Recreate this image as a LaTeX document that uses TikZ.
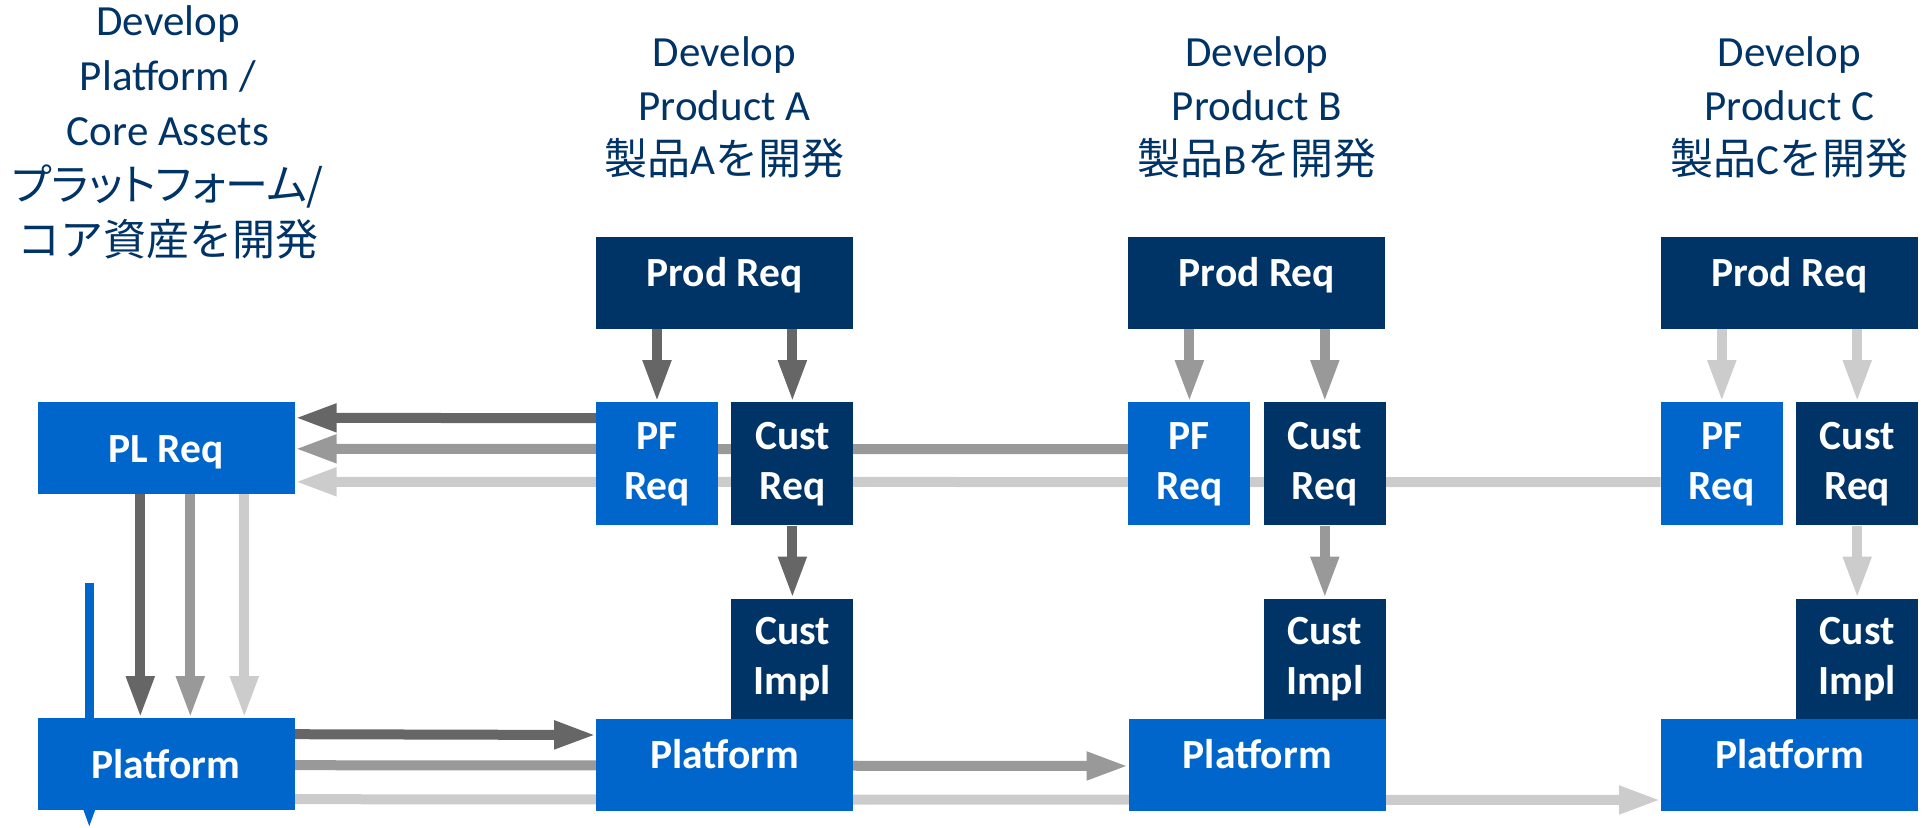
\documentclass[tikz,border=0pt]{standalone}
\usepackage{fontspec}
\setmainfont{Carlito}
\newfontfamily\jpfont{Noto Sans CJK JP}
\newfontfamily\jpkana[RawFeature=+palt]{Noto Sans CJK JP}
\usetikzlibrary{positioning,arrows.meta,backgrounds}
\definecolor{navy}{RGB}{0,51,102}
\definecolor{pfblue}{RGB}{0,102,204}
\definecolor{darkarr}{RGB}{102,102,102}
\definecolor{midarr}{RGB}{153,153,153}
\definecolor{lightarr}{RGB}{204,204,204}
\tikzset{
  box/.style={rectangle, inner sep=0pt, text=white, align=center,
    font=\fontsize{41.5}{50}\selectfont\bfseries},
  navybox/.style={box, fill=navy},
  bluebox/.style={box, fill=pfblue},
  oneline/.style={text height=37pt, text depth=9pt},
  upper/.style={text height=37pt, text depth=31pt},
  widebox/.style={minimum width=257pt, minimum height=92pt},
  tallbox/.style={minimum width=122pt, minimum height=123pt},
  implbox/.style={minimum width=122pt, minimum height=120pt},
  flow/.style={line width=10pt, -{Triangle[width=26pt,length=42pt]}},
  title/.style={text=navy, align=center, font=\fontsize{43}{54}\selectfont},
}
\begin{document}
\begin{tikzpicture}[x=1pt,y=-1pt]
\useasboundingbox (0,0) rectangle (1924,827);
\node[bluebox, widebox, oneline] (plreq) at (166,448) {PL Req};
\node[bluebox, widebox, oneline] (platl) [below=224pt of plreq] {Platform};

\node[navybox, widebox, upper] (proda) at (724.5,283) {Prod Req};
\node[bluebox, tallbox] (pfa) [below=73pt of proda.south west, anchor=north west] {PF\\Req};
\node[navybox, tallbox] (custa) [right=13pt of pfa] {Cust\\Req};
\node[navybox, implbox] (impla) [below=73pt of custa] {Cust\\Impl};
\node[bluebox, widebox, upper] (plata) [below=0pt of impla.south east, anchor=north east] {Platform};

\node[navybox, widebox, upper] (prodb) [right=275pt of proda] {Prod Req};
\node[bluebox, tallbox] (pfb) [below=73pt of prodb.south west, anchor=north west] {PF\\Req};
\node[navybox, tallbox] (custb) [right=13pt of pfb] {Cust\\Req};
\node[navybox, implbox] (implb) [below=73pt of custb] {Cust\\Impl};
\node[bluebox, widebox, upper] (platb) [below=0pt of implb.south east, anchor=north east] {Platform};

\node[navybox, widebox, upper] (prodc) [right=275pt of prodb] {Prod Req};
\node[bluebox, tallbox] (pfc) [below=73pt of prodc.south west, anchor=north west] {PF\\Req};
\node[navybox, tallbox] (custc) [right=13pt of pfc] {Cust\\Req};
\node[navybox, implbox] (implc) [below=73pt of custc] {Cust\\Impl};
\node[bluebox, widebox, upper] (platc) [below=0pt of implc.south east, anchor=north east] {Platform};

\node[title, font=\fontsize{43}{55}\selectfont] (devpl) at (168,132) {Develop\\Platform /\\Core Assets\\{\jpkana プラットフォーム/}\\{\jpfont コア資産を開発}};
\node[title] (deva) at ([yshift=129pt]proda.north) {Develop\\Product A\\{\jpfont 製品}A{\jpfont を開発}};
\node[title] (devb) at ([yshift=129pt]prodb.north) {Develop\\Product B\\{\jpfont 製品}B{\jpfont を開発}};
\node[title] (devc) at ([yshift=129pt]prodc.north) {Develop\\Product C\\{\jpfont 製品}C{\jpfont を開発}};

\draw[flow, darkarr] (pfa.north |- proda.south) -- (pfa.north);
\draw[flow, darkarr] (custa.north |- proda.south) -- (custa.north);
\draw[flow, darkarr] (custa.south) -- (impla.north);
\draw[flow, midarr] (pfb.north |- prodb.south) -- (pfb.north);
\draw[flow, midarr] (custb.north |- prodb.south) -- (custb.north);
\draw[flow, midarr] (custb.south) -- (implb.north);
\draw[flow, lightarr] (pfc.north |- prodc.south) -- (pfc.north);
\draw[flow, lightarr] (custc.north |- prodc.south) -- (custc.north);
\draw[flow, lightarr] (custc.south) -- (implc.north);

\draw[flow, darkarr] ([xshift=103pt]plreq.south west) -- ([xshift=103pt]platl.north west);
\draw[flow, midarr] ([xshift=153pt]plreq.south west) -- ([xshift=153pt]platl.north west);
\draw[flow, lightarr] ([xshift=207pt]plreq.south west) -- ([xshift=207pt]platl.north west);

\begin{scope}[on background layer]
\draw[flow, darkarr] ([yshift=-16pt]pfa.north west) -- ([yshift=-16pt]plreq.north east);
\draw[flow, midarr] ([yshift=-47pt]pfb.north west) -- ([yshift=-47pt]plreq.north east);
\draw[flow, lightarr] ([yshift=-80pt]pfc.north west) -- ([yshift=-80pt]plreq.north east);
\draw[flow, darkarr] ([yshift=-16pt]platl.north east) -- ([yshift=-16pt]plata.north west);
\draw[flow, midarr] ([yshift=-47pt]platl.north east) -- ([yshift=-47pt]platb.north west);
\draw[flow, lightarr] ([yshift=-81pt]platl.north east) -- ([yshift=-81pt]platc.north west);
\coordinate (pltop) at ([xshift=52pt,yshift=135pt]platl.north west);
\coordinate (plbot) at ([xshift=52pt,yshift=-110pt]platl.north west);
\draw[flow, line width=9pt, pfblue] (pltop) -- (plbot);
\end{scope}
\end{tikzpicture}
\end{document}
